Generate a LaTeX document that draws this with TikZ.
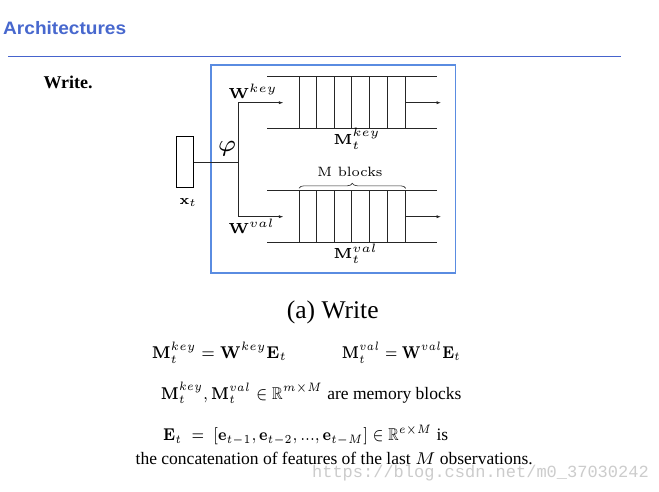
\documentclass[tikz,border=0pt]{standalone}
\usepackage{amsmath,amssymb,graphicx}
\usepackage[no-math]{fontspec}
\newfontfamily\timesfont{Liberation Serif}
\newfontfamily\titlefont{Liberation Sans}
\newfontfamily\wmfont{Liberation Mono}
\usetikzlibrary{arrows.meta,decorations.pathreplacing}
\definecolor{titleblue}{RGB}{72,104,206}
\definecolor{ruleblue}{RGB}{70,100,205}
\definecolor{frameblue}{RGB}{90,140,225}
\newcommand\dmath[1]{\scalebox{2.43}{\fontsize{6}{7}\selectfont$#1$}}
\newcommand\emath[1]{\scalebox{2.44}{\fontsize{7}{8.4}\selectfont$#1$}}
\newcommand\fmath[2]{\resizebox{#1}{2.44\height}{\fontsize{7}{8.4}\selectfont$#2$}}
\newcommand\cmsmall[1]{\scalebox{2.25}{\fontencoding{OT1}\fontfamily{cmr}\fontsize{6}{7}\selectfont #1}}
\begin{document}
\begin{tikzpicture}[x=1pt,y=-1pt,
  lbl/.style={inner sep=0pt, anchor=base west},
  memline/.style={line width=0.7pt, black!85},
  arr/.style={-{Latex[length=4.5pt,width=3.2pt]}, line width=0.7pt, black!85},
  body/.style={inner sep=0pt, anchor=base west, font=\timesfont\fontsize{17.5}{20}\selectfont}]
\useasboundingbox (0,0) rectangle (659,491);
\fill[white] (0,0) rectangle (659,491);
% header
\node[anchor=base west, inner sep=0pt, text=titleblue, font=\titlefont\bfseries\fontsize{18}{20}\selectfont] (title) at (3,34) {\scalebox{1.06}[1]{Architectures}};
\coordinate (ruleL) at (8,56.5);
\coordinate (ruleR) at (621,56.5);
\draw[ruleblue, line width=0.8pt] (ruleL) -- (ruleR);
\node[anchor=base west, inner sep=0pt, font=\timesfont\bfseries\fontsize{18}{20}\selectfont] (write) at (43.3,88.3) {Write.};
% frame
\node[draw=frameblue, line width=1.1pt, minimum width=244.7pt, minimum height=208pt, inner sep=0pt] (frame) at (333.35,169) {};
% memory blocks
\foreach \yy/\nm in {76.7/kt,128.3/kb,190.7/vt,242.3/vb}{
  \coordinate (\nm L) at (267.3,\yy);
  \coordinate (\nm R) at (436.7,\yy);
  \draw[memline] (\nm L) -- (\nm R);
}
\foreach \xx in {299,316.7,334,351.7,369.3,387.7,405.7}{
  \draw[memline] (\xx,76.7) -- (\xx,128.3);
  \draw[memline] (\xx,190.7) -- (\xx,242.3);
}
% input
\node[draw, line width=0.7pt, minimum width=17.3pt, minimum height=50.6pt, inner sep=0pt] (xbox) at (184.7,162) {};
\node[lbl] (xt) at (179.3,204.3) {\scalebox{0.92}{\dmath{\mathbf{x}_t}}};
\coordinate (split) at (238.3,162);
\coordinate (ktop) at (238.3,102.7);
\coordinate (vbot) at (238.3,216.7);
\coordinate (kin) at (283.3,102.7);
\coordinate (vin) at (283.3,216.7);
\coordinate (kout0) at (405.7,102.7);
\coordinate (kout) at (441,102.7);
\coordinate (vout0) at (405.7,216.7);
\coordinate (vout) at (441,216.7);
\draw[memline] (xbox.east) -- (split);
\draw[memline] (ktop) -- (vbot);
\draw[arr] (ktop) -- (kin);
\draw[arr] (vbot) -- (vin);
\draw[arr] (kout0) -- (kout);
\draw[arr] (vout0) -- (vout);
\node[inner sep=0pt] (phi) at (227.2,149.2) {\scalebox{3.9}{\fontsize{6}{7}\selectfont$\varphi$}};
\node[lbl] (wkey) at (228.3,98.3) {\dmath{\mathbf{W}^{key}}};
\node[lbl] (wval) at (228.3,233.3) {\dmath{\mathbf{W}^{val}}};
\node[lbl] (mkey) at (333.3,144) {\dmath{\mathbf{M}_t^{key}}};
\node[lbl] (mval) at (333.3,258.3) {\dmath{\mathbf{M}_t^{val}}};
\coordinate (brL) at (299,188.3);
\coordinate (brR) at (405.7,188.3);
\draw[memline, line width=0.6pt, decorate, decoration={brace, amplitude=5pt}] (brL) -- (brR);
\node[inner sep=0pt, anchor=base] (mblocks) at (350,176) {\cmsmall{M blocks}};
% caption and text
\node[inner sep=0pt, anchor=base west, font=\timesfont\fontsize{25.5}{28}\selectfont] (cap) at (286.7,318) {(a) Write};
\node[lbl] (eq1) at (151.7,358.3) {\fmath{135pt}{\mathbf{M}_t^{key}=\mathbf{W}^{key}\mathbf{E}_t}};
\node[lbl] (eq2) at (341.7,358.3) {\fmath{119pt}{\mathbf{M}_t^{val}=\mathbf{W}^{val}\mathbf{E}_t}};
\node[body] (l3) at (160.7,399) {\fmath{162pt}{\mathbf{M}_t^{key},\mathbf{M}_t^{val}\in\mathbb{R}^{m\times M}} are memory blocks};
\node[body] (l4) at (163,440.7) {\fmath{269pt}{\mathbf{E}_t\;=\;[\mathbf{e}_{t-1},\mathbf{e}_{t-2},...,\mathbf{e}_{t-M}]\in\mathbb{R}^{e\times M}} is};
\node[anchor=base east, inner sep=0pt, text=black!20, font=\wmfont\fontsize{17}{19}\selectfont] (wm) at (649,477) {https://blog.csdn.net/m0\_37030242};
\node[body] (l5) at (135.5,464) {the concatenation of features of the last \emath{M} observations.};
\end{tikzpicture}
\end{document}
